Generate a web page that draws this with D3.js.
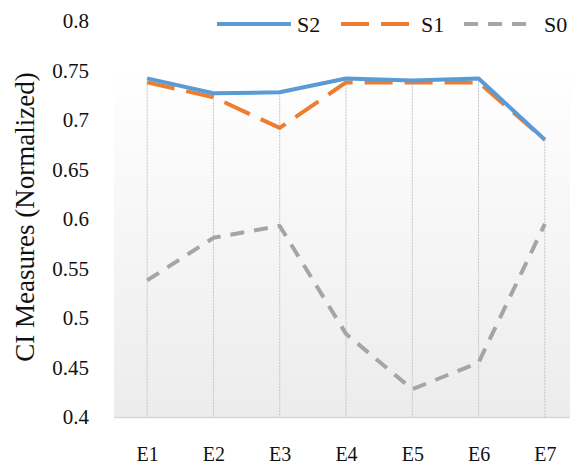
<!DOCTYPE html>
<html><head><meta charset="utf-8">
<script src="https://cdn.jsdelivr.net/npm/d3@7"></script>
<style>body{margin:0;background:#fff}svg{display:block}text{font-family:"Liberation Serif","Times New Roman",serif;fill:#111}</style>
</head><body><div id="chart"></div>
<script>
const categories = ["E1","E2","E3","E4","E5","E6","E7"];
const s2 = [0.742,0.727,0.728,0.742,0.740,0.742,0.680];
const s1 = [0.738,0.723,0.692,0.738,0.738,0.738,0.680];
const s0 = [0.538,0.581,0.593,0.484,0.428,0.455,0.595];
const yTicks = [0.4,0.45,0.5,0.55,0.6,0.65,0.7,0.75,0.8];
const seriesNames = ["S2","S1","S0"];

const W = 570, H = 466;
const FONT = "Liberation Serif";
const svg = d3.select("#chart").append("svg").attr("width",W).attr("height",H);
const x = d3.scalePoint().domain(categories).range([114,578]).padding(0.5);
const y = d3.scaleLinear().domain([0.4,0.8]).range([417,21]);

const defs = svg.append("defs");
const g = defs.append("linearGradient").attr("id","bg").attr("x1",0).attr("y1",0).attr("x2",0).attr("y2",1);
g.append("stop").attr("offset","0%").attr("stop-color","#ffffff");
g.append("stop").attr("offset","100%").attr("stop-color","#ececec");
svg.append("rect").attr("x",114).attr("y",65).attr("width",W-114).attr("height",417-65).attr("fill","url(#bg)");

// drop lines from the highest series value to the axis
const maxVals = categories.map((c,i)=>Math.max(s0[i],s1[i],s2[i]));
svg.append("g").selectAll("line").data(categories).join("line")
  .attr("x1",d=>x(d)).attr("x2",d=>x(d)).attr("y1",(d,i)=>y(maxVals[i])).attr("y2",y(0.4))
  .attr("stroke","#c4c4c4").attr("stroke-width",1).attr("stroke-dasharray","2,1");

// x axis line
svg.append("line").attr("x1",114).attr("x2",W).attr("y1",y(0.4)+0.5).attr("y2",y(0.4)+0.5)
  .attr("stroke","#d6d6d6").attr("stroke-width",1.5);

// y tick labels
const ya = d3.axisLeft(y).tickValues(yTicks).tickSize(0).tickPadding(0).tickFormat(d=>String(+d.toFixed(2)));
const yg = svg.append("g").attr("transform","translate(89,0)").call(ya);
yg.select(".domain").remove();
yg.attr("font-family",FONT);
yg.selectAll("text").attr("font-size",21).attr("font-family",FONT).attr("fill","#111").attr("dy","0.33em");

// x tick labels
const xa = d3.axisBottom(x).tickSize(0).tickPadding(0);
const xg = svg.append("g").attr("transform","translate(0,461)").call(xa);
xg.select(".domain").remove();
xg.attr("font-family",FONT);
xg.selectAll("text").attr("font-size",20).attr("font-family",FONT).attr("fill","#111").attr("y",0).attr("dy","0");

// y title
svg.append("text").attr("transform","translate(34,217) rotate(-90)").attr("text-anchor","middle")
  .attr("font-family",FONT).attr("font-size",27).text("CI Measures (Normalized)");

const styles = {S2:{c:"#5b9bd5",d:null,v:s2},S1:{c:"#ed7d31",d:"28,12",v:s1},S0:{c:"#a5a5a5",d:"14,10",v:s0}};
const line = d3.line().x((d,i)=>x(categories[i])).y(d=>y(d));
["S0","S1","S2"].forEach(n=>{
  const s = styles[n];
  svg.append("path").datum(s.v).attr("d",line).attr("fill","none").attr("stroke",s.c)
    .attr("stroke-width",4).attr("stroke-dasharray",s.d).attr("stroke-linejoin","round");
});

// legend
const leg = [{n:"S2",x0:217,x1:291,tx:297},{n:"S1",x0:341,x1:411,tx:421},{n:"S0",x0:464,x1:530,tx:544}];
leg.forEach(l=>{
  const s = styles[l.n];
  svg.append("line").attr("x1",l.x0).attr("x2",l.x1).attr("y1",24).attr("y2",24)
    .attr("stroke",s.c).attr("stroke-width",4).attr("stroke-dasharray",s.d);
  svg.append("text").attr("x",l.tx).attr("y",32).attr("font-family",FONT).attr("font-size",22).text(l.n);
});
</script></body></html>
